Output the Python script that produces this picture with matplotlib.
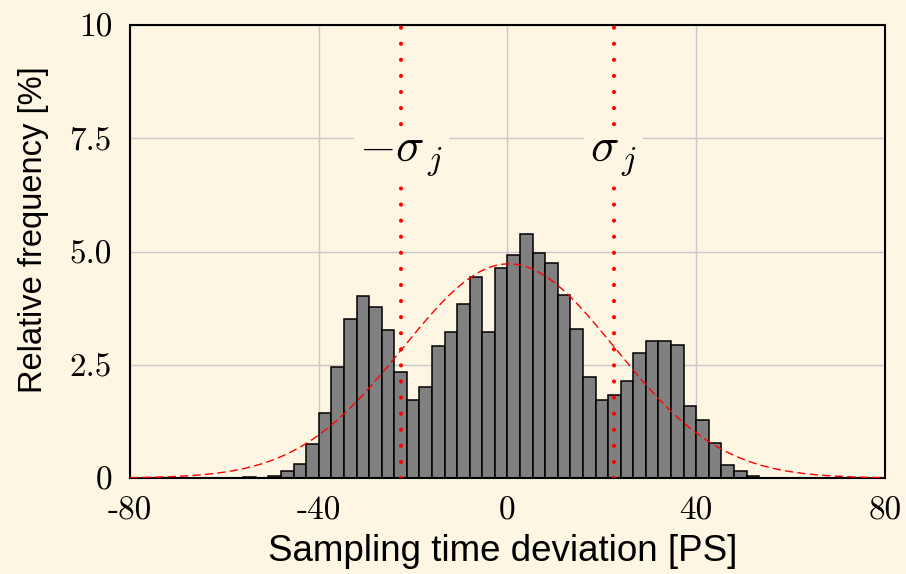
import matplotlib.pyplot as plt
import numpy as np

bg = "#fcf6e3"

# histogram: 60 bins over [-80, 80] ps, relative frequency in %
bin_lo, bin_hi, n_bins = -80, 80, 60
freq = [0, 0, 0, 0, 0, 0, 0, 0, 0,
        0.03, 0.01, 0.04, 0.15, 0.32, 0.76, 1.43, 2.44, 3.51, 4.02, 3.77,
        3.27, 2.33, 1.73, 2.00, 2.92, 3.22, 3.85, 4.43, 3.22, 4.63,
        4.93, 5.39, 4.96, 4.74, 4.03, 3.30, 2.23, 1.73, 1.84, 2.15,
        2.77, 3.02, 3.03, 2.94, 1.59, 1.27, 0.78, 0.28, 0.15, 0.04,
        0.01, 0, 0, 0, 0, 0, 0, 0, 0, 0]

# fitted normal curve
mu = 0.3
sigma = 22.5

xticks = [-80, -40, 0, 40, 80]
xticklabels = ["-80", "-40", "0", "40", "80"]
yticks = [0, 2.5, 5.0, 7.5, 10]
yticklabels = ["0", "2.5", "5.0", "7.5", "10"]

plt.rcParams["mathtext.fontset"] = "cm"

fig = plt.figure(figsize=(9.06, 5.74), dpi=100, facecolor=bg)
ax = fig.add_axes([0.1435, 0.1672, 0.8333, 0.7892], facecolor=bg)

edges = np.linspace(bin_lo, bin_hi, n_bins + 1)
width = edges[1] - edges[0]
ax.bar(edges[:-1], freq, width=width, align="edge", color="#808080",
       edgecolor="black", linewidth=1.1, zorder=2)

xs = np.linspace(bin_lo, bin_hi, 400)
pdf = 100 * width / (sigma * np.sqrt(2 * np.pi)) * np.exp(-0.5 * ((xs - mu) / sigma) ** 2)
ax.plot(xs, pdf, color="red", linestyle=(0, (6, 3)), linewidth=1.0, zorder=3)

for s in (-sigma, sigma):
    ax.axvline(s, color="red", linestyle=(0, (0.01, 3.85)), linewidth=3,
               dash_capstyle="round", zorder=4)

lbl_kw = dict(fontsize=34, ha="center", va="center", zorder=5,
              bbox=dict(facecolor=bg, edgecolor="none", pad=4))
ax.text(-sigma, 7.1, r"$-\sigma_{\,j}$", **lbl_kw)
ax.text(sigma, 7.1, r"$\sigma_{\,j}$", **lbl_kw)

ax.set_xlim(bin_lo, bin_hi)
ax.set_ylim(0, 10)
ax.set_xticks(xticks)
ax.set_xticklabels(xticklabels)
ax.set_yticks(yticks)
ax.set_yticklabels(yticklabels)
for lab in ax.get_xticklabels() + ax.get_yticklabels():
    lab.set_fontfamily("cmr10")
    lab.set_fontsize(24)
ax.tick_params(length=0, pad=13)
ax.tick_params(axis="x", pad=13)

ax.grid(True, color="#c8c8c8", linewidth=1.0, zorder=0)
ax.set_axisbelow(True)
for sp in ax.spines.values():
    sp.set_linewidth(1.5)
    sp.set_color("black")

ax.set_xlabel("Sampling time deviation [PS]", fontsize=26.5,
              fontfamily="Liberation Sans")
ax.set_ylabel("Relative frequency [%]", fontsize=23.5,
              fontfamily="Liberation Sans")
ax.xaxis.set_label_coords(0.494, -0.123)
ax.yaxis.set_label_coords(-0.107, 0.548)

fig.savefig("out.png", dpi=100, facecolor=bg)
